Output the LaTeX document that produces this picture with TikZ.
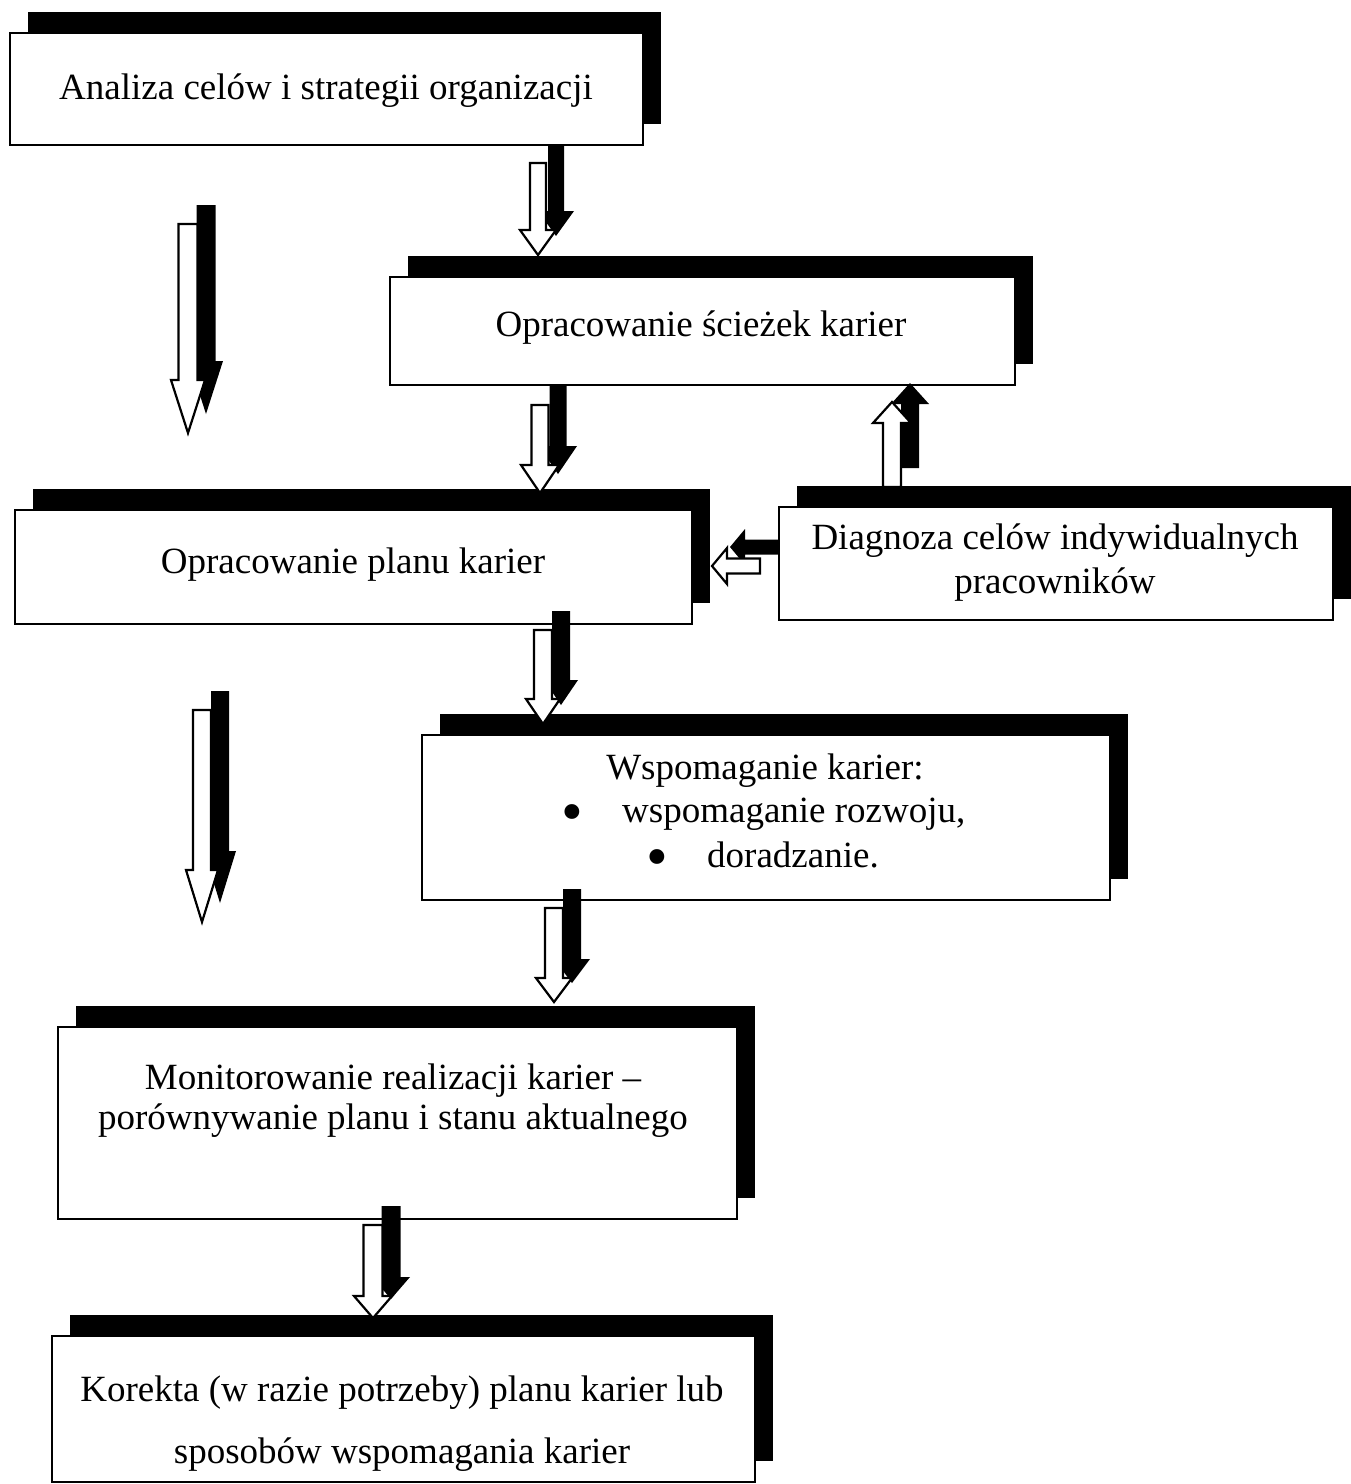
\documentclass[tikz,border=0pt]{standalone}
\usepackage{fontspec}
\setmainfont{Liberation Serif}
\usetikzlibrary{calc,shadows}

% block arrow from #1 (tail) to #2 (tip); #3 shaft half width, #4 head half width,
% #5 head length, #6 prefix for the head-base coordinate
\newcommand\blockarrow[6]{%
  \coordinate (#6h) at ($(#2)!#5!(#1)$);
  \path[arrowbody]
    ($(#1)!#3!90:(#2)$) -- ($(#6h)!#3!90:(#2)$) -- ($(#6h)!#4!90:(#2)$) -- (#2)
    -- ($(#6h)!#4!-90:(#2)$) -- ($(#6h)!#3!-90:(#2)$) -- ($(#1)!#3!-90:(#2)$) -- cycle;
}
% list bullet, centred on the current point
\newcommand\bigdot{\makebox[0pt]{\raisebox{-10pt}{\fontsize{62}{44}\selectfont\textbullet}}}

\begin{document}
\begin{tikzpicture}[x=1pt,y=-1pt,
  panel/.style={rectangle,draw=black,line width=2pt,fill=white,inner sep=0pt,
    drop shadow={shadow xshift=18pt,shadow yshift=21pt,fill=black,opacity=1}},
  txt/.style={inner sep=0pt,align=center,font=\fontsize{37}{44}\selectfont},
  arrowbody/.style={draw=black,line width=2.2pt,fill=white,line join=miter,
    drop shadow={shadow xshift=18pt,shadow yshift=19pt,fill=black,opacity=1}},
]
\useasboundingbox (0,0) rectangle (1351,1484);

% boxes
\node[panel,minimum width=633pt,minimum height=112pt] (b1) at (326.5,89) {};
\node[panel,minimum width=625pt,minimum height=108pt] (b2) at (702.5,331) {};
\node[panel,minimum width=677pt,minimum height=114pt] (b3) at (353.5,567) {};
\node[panel,minimum width=554pt,minimum height=113pt] (b4) at (1056,563.5) {};
\node[panel,minimum width=688pt,minimum height=165pt] (b5) at (766,817) {};
\node[panel,minimum width=679pt,minimum height=192pt] (b6) at (397.5,1123) {};
\node[panel,minimum width=703pt,minimum height=146pt] (b7) at (403.5,1409) {};

% texts
\node[txt] (t1) at (326,91) {Analiza celów i strategii organizacji};
\node[txt] (t2) at (701,328) {Opracowanie ścieżek karier};
\node[txt] (t3) at (353,565) {Opracowanie planu karier};
\node[txt] (t4) at (1055,563) {Diagnoza celów indywidualnych\\pracowników};
\node[txt] (t5a) at (765,771) {Wspomaganie karier:};
\node[txt,anchor=west] (t5b) at (572,815) {\bigdot\hspace{50pt}wspomaganie rozwoju,};
\node[txt,anchor=west] (t5c) at (657,860) {\bigdot\hspace{50pt}doradzanie.};
\node[txt,font=\fontsize{37}{40}\selectfont] (t6) at (393,1101)
  {Monitorowanie realizacji karier –\\porównywanie planu i stanu aktualnego};
\node[txt,font=\fontsize{37}{62}\selectfont] (t7) at (402,1424)
  {Korekta (w razie potrzeby) planu karier lub\\sposobów wspomagania karier};

% arrow ends
\coordinate (a1s) at (538,163);  \coordinate (a1t) at (538,255);
\coordinate (a2s) at (188,224);  \coordinate (a2t) at (188,433);
\coordinate (a3s) at (540,405);  \coordinate (a3t) at (540,493);
\coordinate (a4s) at (892,487);  \coordinate (a4t) at (892,402);
\coordinate (a5s) at (760,566);  \coordinate (a5t) at (712,566);
\coordinate (a6s) at (543,630);  \coordinate (a6t) at (543,724);
\coordinate (a7s) at (202,710);  \coordinate (a7t) at (202,922);
\coordinate (a8s) at (554,908);  \coordinate (a8t) at (554,1002);
\coordinate (a9s) at (373,1225); \coordinate (a9t) at (373,1318);

% arrows
\blockarrow{a1s}{a1t}{8pt}{18pt}{25pt}{a1}
\blockarrow{a2s}{a2t}{9.5pt}{17pt}{53pt}{a2}
\blockarrow{a3s}{a3t}{8.5pt}{19pt}{28pt}{a3}
\blockarrow{a4s}{a4t}{9pt}{19pt}{21pt}{a4}
\blockarrow{a5s}{a5t}{7.5pt}{18pt}{15pt}{a5}
\blockarrow{a6s}{a6t}{9pt}{17pt}{25pt}{a6}
\blockarrow{a7s}{a7t}{9pt}{16pt}{52pt}{a7}
\blockarrow{a8s}{a8t}{9pt}{18pt}{24pt}{a8}
\blockarrow{a9s}{a9t}{9.5pt}{19pt}{22pt}{a9}
\end{tikzpicture}
\end{document}
